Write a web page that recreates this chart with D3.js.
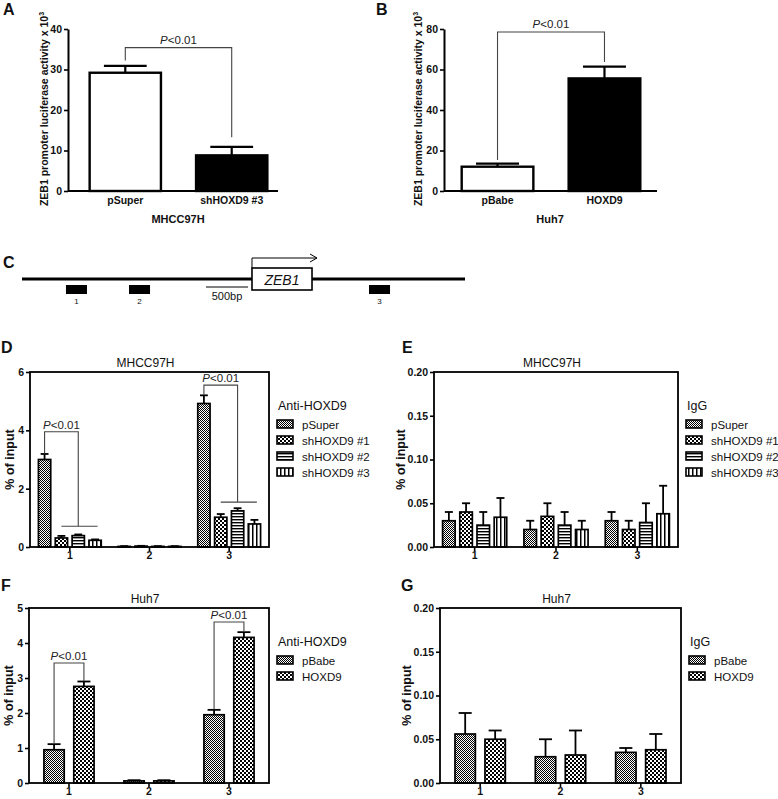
<!DOCTYPE html>
<html><head><meta charset="utf-8">
<script src="https://cdn.jsdelivr.net/npm/d3@7/dist/d3.min.js"></script>
<style>
body{margin:0;background:#fff}
svg{display:block}
text{font-family:"Liberation Sans",Arial,Helvetica,sans-serif;fill:#111}
</style></head>
<body><svg id="chart" width="778" height="799"></svg>
<script>
// ---------- DATA ----------
const aCategories = ["pSuper", "shHOXD9 #3"];
const aValues = [29.2, 8.8];
const aErrors = [1.7, 2.1];
const aTicks = [0, 10, 20, 30, 40];
const aBracket = {top: 35.4, leftEnd: 32.2, rightEnd: 13.3};

const bCategories = ["pBabe", "HOXD9"];
const bValues = [12.0, 55.6];
const bErrors = [1.5, 5.8];
const bTicks = [0, 20, 40, 60, 80];
const bBracket = {top: 78.5, leftEnd: 15.3, rightEnd: 63.7};

const regions = ["1", "2", "3"];
const shSeries = ["pSuper", "shHOXD9 #1", "shHOXD9 #2", "shHOXD9 #3"];
const oeSeries = ["pBabe", "HOXD9"];

// D: Anti-HOXD9 ChIP, MHCC97H (rows = regions)
const dValues = [[3.0, 0.31, 0.39, 0.23], [0.02, 0.03, 0.02, 0.02], [4.92, 1.02, 1.24, 0.79]];
const dErrors = [[0.19, 0.07, 0.04, 0.03], [0.01, 0.01, 0.01, 0.01], [0.28, 0.11, 0.09, 0.14]];
const dTicks = [0, 2, 4, 6];
const dBrackets = [
  {region: "1", top: 3.95, leftEnd: 3.21, rightEnd: 0.71},
  {region: "3", top: 5.55, leftEnd: 5.22, rightEnd: 1.54}
];
// E: IgG, MHCC97H
const eValues = [[0.030, 0.040, 0.025, 0.034], [0.020, 0.035, 0.025, 0.020], [0.030, 0.020, 0.028, 0.038]];
const eErrors = [[0.010, 0.010, 0.015, 0.022], [0.010, 0.015, 0.015, 0.010], [0.010, 0.010, 0.022, 0.032]];
const smallTicks = [0, 0.05, 0.10, 0.15, 0.20];
// F: Anti-HOXD9 ChIP, Huh7
const fValues = [[0.95, 2.76], [0.06, 0.06], [1.95, 4.16]];
const fErrors = [[0.16, 0.14], [0.02, 0.02], [0.14, 0.15]];
const fTicks = [0, 1, 2, 3, 4, 5];
const fBrackets = [
  {region: "1", top: 3.43, leftEnd: 1.13, rightEnd: 2.91},
  {region: "3", top: 4.60, leftEnd: 2.10, rightEnd: 4.32}
];
// G: IgG, Huh7
const gValues = [[0.056, 0.050], [0.030, 0.032], [0.035, 0.038]];
const gErrors = [[0.024, 0.010], [0.020, 0.028], [0.005, 0.018]];

// C: schematic (positions in bp along the drawn locus)
const locusLength = 5270;
const amplicons = [{label: "1", start: 523, end: 773}, {label: "2", start: 1273, end: 1523}, {label: "3", start: 4128, end: 4378}];
const geneBox = {name: "ZEB1", start: 2736, end: 3450};
const scaleBar = {label: "500bp", start: 2189, end: 2689};

// ---------- DRAWING ----------
const svg = d3.select("#chart");
const defs = svg.append("defs");

function checker(id, cell) {
  const p = defs.append("pattern").attr("id", id).attr("patternUnits", "userSpaceOnUse")
    .attr("width", cell * 2).attr("height", cell * 2);
  p.append("rect").attr("width", cell * 2).attr("height", cell * 2).attr("fill", "#fff");
  p.append("rect").attr("width", cell).attr("height", cell).attr("fill", "#000");
  p.append("rect").attr("x", cell).attr("y", cell).attr("width", cell).attr("height", cell).attr("fill", "#000");
}
checker("pFine", 1);
checker("pChecker", 2);
(function () {
  const h = defs.append("pattern").attr("id", "pHStripe").attr("patternUnits", "userSpaceOnUse").attr("width", 4).attr("height", 3);
  h.append("rect").attr("width", 4).attr("height", 3).attr("fill", "#fff");
  h.append("rect").attr("width", 4).attr("height", 1.4).attr("fill", "#000");
  const v = defs.append("pattern").attr("id", "pVStripe").attr("patternUnits", "userSpaceOnUse").attr("width", 4).attr("height", 4);
  v.append("rect").attr("width", 4).attr("height", 4).attr("fill", "#fff");
  v.append("rect").attr("width", 1.5).attr("height", 4).attr("fill", "#000");
})();
const shFill = ["url(#pFine)", "url(#pChecker)", "url(#pHStripe)", "url(#pVStripe)"];
const oeFill = ["url(#pFine)", "url(#pChecker)"];

function panelLetter(t, x, y) {
  svg.append("text").attr("x", x).attr("y", y).attr("font-size", 16).attr("font-weight", "bold").text(t);
}
function pText(g, x, y) {
  const t = g.append("text").attr("x", x).attr("y", y).attr("text-anchor", "middle").attr("font-size", 11.5).style("fill", "#222");
  t.append("tspan").attr("font-style", "italic").text("P");
  t.append("tspan").text("<0.01");
}
function styleAxis(g, size) {
  g.selectAll("text").attr("font-size", size).attr("font-weight", "bold").style("fill", "#111").attr("font-family", '"Liberation Sans",Arial,sans-serif');
  g.selectAll(".tick line").attr("stroke", "#000").attr("stroke-width", 1.6);
  g.select(".domain").attr("stroke", "#000").attr("stroke-width", 2);
}
function errBar(g, cx, yv, ye, half, sw) {
  g.append("line").attr("x1", cx).attr("x2", cx).attr("y1", yv).attr("y2", ye).attr("stroke", "#000").attr("stroke-width", sw);
  g.append("line").attr("x1", cx - half).attr("x2", cx + half).attr("y1", ye).attr("y2", ye).attr("stroke", "#000").attr("stroke-width", sw);
}

// ----- Panels A & B -----
function simplePanel(o) {
  const g = svg.append("g");
  const x = d3.scaleBand().domain(o.categories).range(o.xRange).paddingInner(0.33).paddingOuter(0.1);
  const y = d3.scaleLinear().domain([0, o.yMax]).range([191, 29]);
  o.categories.forEach((c, i) => {
    const cx = x(c) + x.bandwidth() / 2;
    errBar(g, cx, y(o.values[i]), y(o.values[i] + o.errors[i]), x.bandwidth() * 0.3, 2.2);
    g.append("rect").attr("x", x(c)).attr("y", y(o.values[i])).attr("width", x.bandwidth())
      .attr("height", y(0) - y(o.values[i])).attr("fill", o.fills[i]).attr("stroke", "#000").attr("stroke-width", 2.4);
  });
  const ya = g.append("g").attr("transform", `translate(${o.axisX},0)`)
    .call(d3.axisLeft(y).tickValues(o.ticks).tickSize(4).tickSizeOuter(0).tickPadding(2));
  styleAxis(ya, 10.5);
  g.append("line").attr("x1", o.axisX).attr("x2", o.axisEnd).attr("y1", y(0)).attr("y2", y(0)).attr("stroke", "#000").attr("stroke-width", 2);
  const xa = g.append("g").attr("transform", `translate(0,${y(0)})`).call(d3.axisBottom(x).tickSize(0).tickPadding(6));
  xa.select(".domain").remove();
  styleAxis(xa, 10.5);
  // bracket
  const c0 = x(o.categories[0]) + x.bandwidth() / 2, c1 = x(o.categories[1]) + x.bandwidth() / 2;
  g.append("path").attr("d", `M${c0},${y(o.bracket.leftEnd)}V${y(o.bracket.top)}H${c1}V${y(o.bracket.rightEnd)}`)
    .attr("fill", "none").attr("stroke", "#444").attr("stroke-width", 1.1);
  pText(g, (c0 + c1) / 2, y(o.bracket.top) - 4);
  g.append("text").attr("x", o.xTitleX).attr("y", 223).attr("text-anchor", "middle").attr("font-size", 11).attr("font-weight", "bold").text(o.xTitle);
  const yl = g.append("text").attr("transform", `translate(${o.yLabelX},109) rotate(-90)`).attr("text-anchor", "middle")
    .attr("font-size", 10.5).attr("font-weight", "bold");
  yl.append("tspan").text("ZEB1 promoter luciferase activity x 10");
  yl.append("tspan").attr("font-size", 7).attr("dy", -4).text("3");
}
simplePanel({categories: aCategories, values: aValues, errors: aErrors, ticks: aTicks, yMax: 40, bracket: aBracket,
  xRange: [79, 278], axisX: 68, axisEnd: 278, fills: ["#fff", "#000"], xTitle: "MHCC97H", xTitleX: 178, yLabelX: 48});
simplePanel({categories: bCategories, values: bValues, errors: bErrors, ticks: bTicks, yMax: 80, bracket: bBracket,
  xRange: [451, 651], axisX: 444, axisEnd: 657, fills: ["#fff", "#000"], xTitle: "Huh7", xTitleX: 550, yLabelX: 422});
panelLetter("A", 3, 15);
panelLetter("B", 376, 15);

// ----- Panel C -----
(function () {
  const g = svg.append("g");
  const xs = d3.scaleLinear().domain([0, locusLength]).range([22, 465]);
  const lineY = 279;
  g.append("line").attr("x1", xs(0)).attr("x2", xs(locusLength)).attr("y1", lineY).attr("y2", lineY).attr("stroke", "#000").attr("stroke-width", 3.2);
  amplicons.forEach(a => {
    g.append("rect").attr("x", xs(a.start)).attr("y", 285).attr("width", xs(a.end) - xs(a.start)).attr("height", 9).attr("fill", "#000");
    g.append("text").attr("x", (xs(a.start) + xs(a.end)) / 2).attr("y", 304).attr("text-anchor", "middle").attr("font-size", 8).text(a.label);
  });
  g.append("rect").attr("x", xs(geneBox.start)).attr("y", 268).attr("width", xs(geneBox.end) - xs(geneBox.start)).attr("height", 22)
    .attr("fill", "#fff").attr("stroke", "#000").attr("stroke-width", 1.6);
  g.append("text").attr("x", (xs(geneBox.start) + xs(geneBox.end)) / 2).attr("y", 284.5).attr("text-anchor", "middle")
    .attr("font-size", 14).attr("font-style", "italic").text(geneBox.name);
  const ax = xs(geneBox.start), ae = xs(geneBox.end) + 5;
  g.append("path").attr("d", `M${ax},268V258H${ae}`).attr("fill", "none").attr("stroke", "#000").attr("stroke-width", 1);
  g.append("path").attr("d", `M${ae - 7},254L${ae},258L${ae - 7},262`).attr("fill", "none").attr("stroke", "#000").attr("stroke-width", 1);
  g.append("line").attr("x1", xs(scaleBar.start)).attr("x2", xs(scaleBar.end)).attr("y1", 287).attr("y2", 287).attr("stroke", "#000").attr("stroke-width", 1);
  g.append("text").attr("x", (xs(scaleBar.start) + xs(scaleBar.end)) / 2).attr("y", 299.5).attr("text-anchor", "middle")
    .attr("font-size", 11).text(scaleBar.label);
})();
panelLetter("C", 3, 268);

// ----- Panels D-G -----
function groupedPanel(o) {
  const g = svg.append("g");
  const gx = d3.scaleBand().domain(regions).range([o.x0, o.x1]).padding(0);
  const sx = d3.scaleBand().domain(o.series).range([0, gx.bandwidth()]).paddingInner(o.pi).paddingOuter(0.5);
  const y = d3.scaleLinear().domain([0, o.yMax]).range([o.y1, o.y0]);
  const cx = (r, s) => gx(r) + sx(s) + sx.bandwidth() / 2;
  regions.forEach((r, ri) => {
    o.series.forEach((s, si) => {
      const v = o.values[ri][si], e = o.errors[ri][si];
      errBar(g, cx(r, s), y(v), y(v + e), sx.bandwidth() * 0.32, 1.8);
      g.append("rect").attr("x", gx(r) + sx(s)).attr("y", y(v)).attr("width", sx.bandwidth())
        .attr("height", y(0) - y(v)).attr("fill", o.fills[si]).attr("stroke", "#000").attr("stroke-width", 1.7);
    });
  });
  g.append("rect").attr("x", o.x0).attr("y", o.y0).attr("width", o.x1 - o.x0).attr("height", o.y1 - o.y0)
    .attr("fill", "none").attr("stroke", "#000").attr("stroke-width", 1.8);
  const ya = g.append("g").attr("transform", `translate(${o.x0},0)`)
    .call(d3.axisLeft(y).tickValues(o.ticks).tickSize(4).tickSizeOuter(0).tickPadding(2).tickFormat(o.fmt));
  ya.select(".domain").remove();
  styleAxis(ya, 10.5);
  const xa = g.append("g").attr("transform", `translate(0,${o.y1})`)
    .call(d3.axisBottom(gx).tickSize(4).tickSizeOuter(0).tickPadding(1));
  xa.select(".domain").remove();
  styleAxis(xa, 10.5);
  g.append("text").attr("x", (o.x0 + o.x1) / 2 - 4).attr("y", o.y0 - 5).attr("text-anchor", "middle").attr("font-size", 12).text(o.title);
  g.append("text").attr("transform", `translate(${o.x0 - o.yLabelOff},${(o.y0 + o.y1) / 2}) rotate(-90)`)
    .attr("text-anchor", "middle").attr("font-size", 12.5).attr("font-weight", "bold").text("% of input");
  // brackets
  (o.brackets || []).forEach(b => {
    const n = o.series.length;
    const xl = cx(b.region, o.series[0]);
    const xr = n > 2 ? cx(b.region, o.series[2]) : cx(b.region, o.series[1]);
    g.append("path").attr("d", `M${xl},${y(b.leftEnd)}V${y(b.top)}H${xr}V${y(b.rightEnd)}`)
      .attr("fill", "none").attr("stroke", "#444").attr("stroke-width", 1.1);
    if (n > 2) {
      g.append("line").attr("x1", cx(b.region, o.series[1])).attr("x2", cx(b.region, o.series[n - 1]) + sx.bandwidth() * 0.2)
        .attr("y1", y(b.rightEnd)).attr("y2", y(b.rightEnd)).attr("stroke", "#444").attr("stroke-width", 1.1);
    }
    pText(g, (xl + xr) / 2, y(b.top) - 3);
  });
  // legend
  const lx = o.x1 + 8;
  g.append("text").attr("x", lx + 1).attr("y", o.y0 + 38).attr("font-size", 12.5).text(o.legendTitle);
  o.series.forEach((s, si) => {
    const iy = o.y0 + 52 + si * 16;
    g.append("rect").attr("x", lx).attr("y", iy - 4).attr("width", 16).attr("height", 8)
      .attr("fill", o.fills[si]).attr("stroke", "#000").attr("stroke-width", 1.6);
    g.append("text").attr("x", lx + 25).attr("y", iy + 4.5).attr("font-size", 11.5).text(s);
  });
}
const fmt2 = d3.format(".2f");
groupedPanel({x0: 30, x1: 269, y0: 372, y1: 547, yMax: 6, ticks: dTicks, fmt: d3.format("d"), series: shSeries, fills: shFill,
  values: dValues, errors: dErrors, pi: 0.27, title: "MHCC97H", legendTitle: "Anti-HOXD9", brackets: dBrackets, yLabelOff: 16});
groupedPanel({x0: 434, x1: 678, y0: 372, y1: 547, yMax: 0.20, ticks: smallTicks, fmt: fmt2, series: shSeries, fills: shFill,
  values: eValues, errors: eErrors, pi: 0.27, title: "MHCC97H", legendTitle: "IgG", yLabelOff: 29});
groupedPanel({x0: 29, x1: 269, y0: 608, y1: 783, yMax: 5, ticks: fTicks, fmt: d3.format("d"), series: oeSeries, fills: oeFill,
  values: fValues, errors: fErrors, pi: 0.32, title: "Huh7", legendTitle: "Anti-HOXD9", brackets: fBrackets, yLabelOff: 16});
groupedPanel({x0: 440, x1: 681, y0: 608, y1: 783, yMax: 0.20, ticks: smallTicks, fmt: fmt2, series: oeSeries, fills: oeFill,
  values: gValues, errors: gErrors, pi: 0.32, title: "Huh7", legendTitle: "IgG", yLabelOff: 29});
panelLetter("D", 1, 353);
panelLetter("E", 402, 353);
panelLetter("F", 1, 591);
panelLetter("G", 401, 591);
</script></body></html>
